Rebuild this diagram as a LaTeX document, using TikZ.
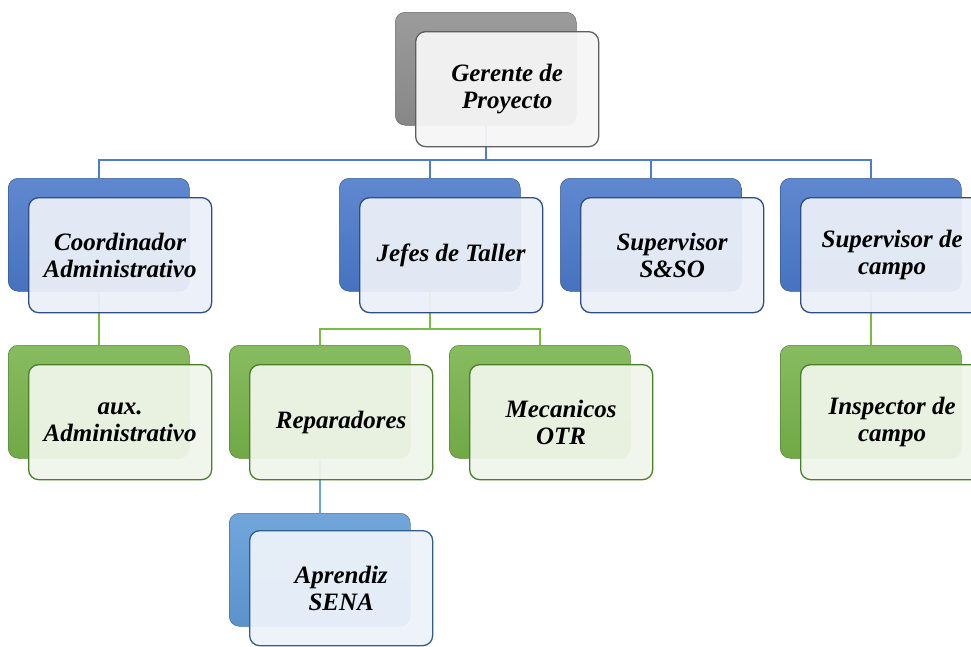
\documentclass[tikz,border=0pt]{standalone}
\usepackage{fontspec}
\setmainfont{Liberation Serif}
\usetikzlibrary{backgrounds}
\definecolor{cblue}{HTML}{4A78C9}
\definecolor{cbluedk}{HTML}{2E4C86}
\definecolor{cbluefr}{HTML}{EBF0F8}
\definecolor{cgreen}{HTML}{77B24A}
\definecolor{cgreendk}{HTML}{4A7F2A}
\definecolor{cgreenfr}{HTML}{F0F6EA}
\definecolor{cgray}{HTML}{8E8E8E}
\definecolor{cgraydk}{HTML}{5E5E5E}
\definecolor{cgrayfr}{HTML}{F6F6F6}
\definecolor{clblue}{HTML}{5F9AD6}
\definecolor{clbluedk}{HTML}{2F5E8E}
\definecolor{clbluefr}{HTML}{EDF3FA}
\definecolor{lnblue}{HTML}{4A7DD3}
\definecolor{lngreen}{HTML}{78BC45}
\definecolor{lnlblue}{HTML}{69A5DE}
\tikzset{
  backbox/.style={rounded corners=10pt, minimum width=181pt, minimum height=113pt,
    anchor=north west, inner sep=0pt, draw=#1!75!black, line width=0.5pt,
    top color=#1!88!white, bottom color=#1!95!black},
  frontbox/.style 2 args={rounded corners=10pt, minimum width=183pt, minimum height=115pt,
    anchor=north west, inner sep=2pt, draw=#1, line width=1.3pt, fill=#2,
    fill opacity=0.94, text opacity=1, align=center,
    font=\fontsize{25}{27}\selectfont\bfseries\itshape},
  conn/.style={draw=#1, line width=1.8pt}
}
\begin{document}
\begin{tikzpicture}[x=1pt,y=-1pt]
\useasboundingbox (0,0) rectangle (971,646);
% back boxes
\node[backbox=cgray]  (gerB)  at (395,12)  {};
\node[backbox=cblue]  (cooB)  at (8,178)   {};
\node[backbox=cblue]  (jefB)  at (339,178) {};
\node[backbox=cblue]  (supB)  at (560,178) {};
\node[backbox=cblue]  (camB)  at (780,178) {};
\node[backbox=cgreen] (auxB)  at (8,345)   {};
\node[backbox=cgreen] (repB)  at (229,345) {};
\node[backbox=cgreen] (mecB)  at (449,345) {};
\node[backbox=cgreen] (insB)  at (780,345) {};
\node[backbox=clblue] (aprB)  at (229,513) {};
% connectors
\coordinate (busA) at (0,160);
\coordinate (busB) at (0,329);
\begin{scope}[on background layer]
\fill[white] (0,0) rectangle (971,646);
\draw[conn=lnblue] (gerB.south) -- (gerB.south |- busA) -| (cooB.north);
\draw[conn=lnblue] (gerB.south |- busA) -| (jefB.north);
\draw[conn=lnblue] (gerB.south |- busA) -| (supB.north);
\draw[conn=lnblue] (gerB.south |- busA) -| (camB.north);
\draw[conn=lngreen] (cooB.south) -- (auxB.north);
\draw[conn=lngreen] (jefB.south) -- (jefB.south |- busB) -| (repB.north);
\draw[conn=lngreen] (jefB.south |- busB) -| (mecB.north);
\draw[conn=lngreen] (camB.south) -- (insB.north);
\draw[conn=lnlblue] (repB.south) -- (aprB.north);
\end{scope}
% front boxes
\node[frontbox={cgraydk}{cgrayfr}]   (gerF) at (415,31)  {Gerente de\\Proyecto};
\node[frontbox={cbluedk}{cbluefr}]   (cooF) at (28,197)  {Coordinador\\Administrativo};
\node[frontbox={cbluedk}{cbluefr}]   (jefF) at (359,197) {Jefes de Taller};
\node[frontbox={cbluedk}{cbluefr}]   (supF) at (580,197) {Supervisor\\S\&SO};
\node[frontbox={cbluedk}{cbluefr}]   (camF) at (800,197) {Supervisor de\\campo};
\node[frontbox={cgreendk}{cgreenfr}] (auxF) at (28,364)  {aux.\\Administrativo};
\node[frontbox={cgreendk}{cgreenfr}] (repF) at (249,364) {Reparadores};
\node[frontbox={cgreendk}{cgreenfr}] (mecF) at (469,364) {Mecanicos\\OTR};
\node[frontbox={cgreendk}{cgreenfr}] (insF) at (800,364) {Inspector de\\campo};
\node[frontbox={clbluedk}{clbluefr}] (aprF) at (249,530) {Aprendiz\\SENA};
\end{tikzpicture}
\end{document}
